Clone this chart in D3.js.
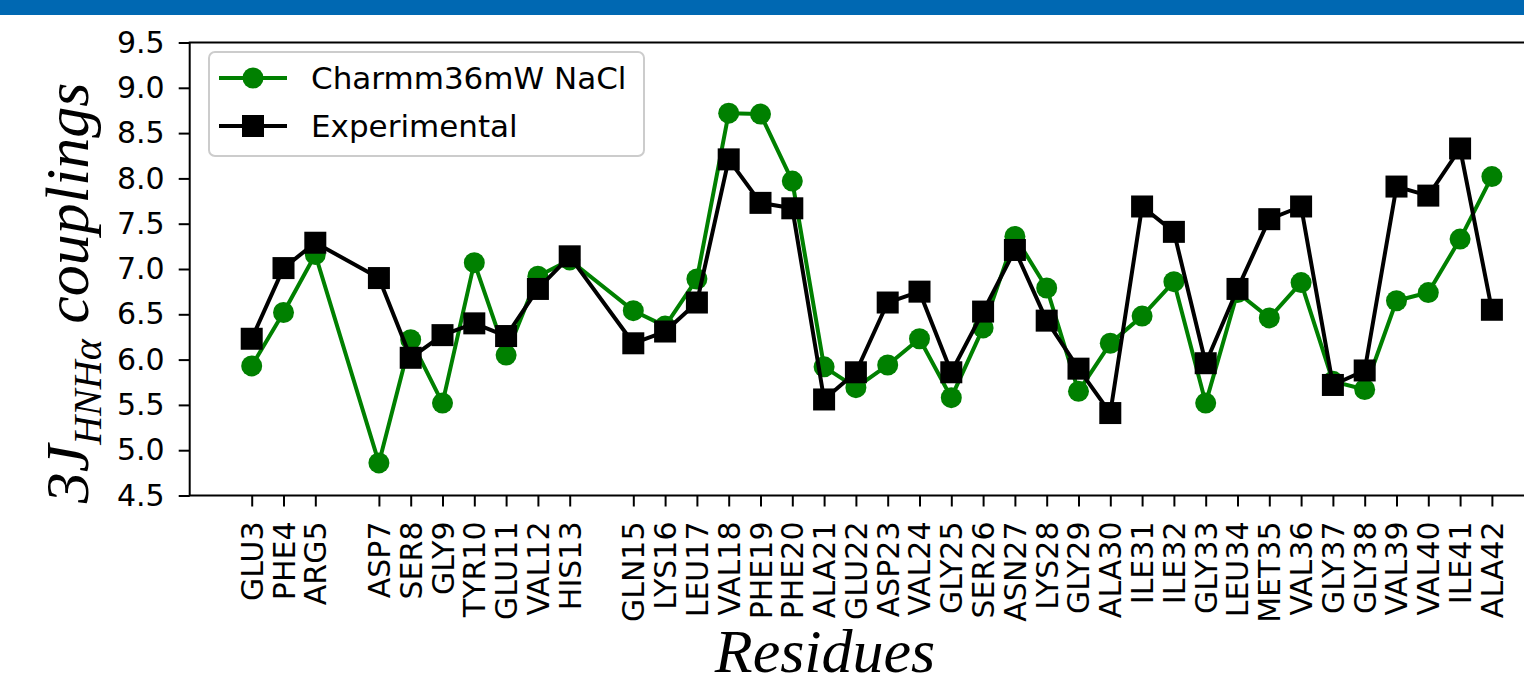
<!DOCTYPE html>
<html>
<head>
<meta charset="utf-8">
<script src="https://cdn.jsdelivr.net/npm/d3@7"></script>
<style>
  body { margin: 0; background: #fff; }
  svg { display: block; }
  .tick text { font-family: "DejaVu Sans", sans-serif; }
</style>
</head>
<body>
<div id="chart"></div>
<script>
// residues (label + residue number, gaps at 6 and 14)
const residues = ["GLU3", "PHE4", "ARG5", "ASP7", "SER8", "GLY9", "TYR10", "GLU11", "VAL12", "HIS13",
    "GLN15", "LYS16", "LEU17", "VAL18", "PHE19", "PHE20", "ALA21", "GLU22", "ASP23", "VAL24",
    "GLY25", "SER26", "ASN27", "LYS28", "GLY29", "ALA30", "ILE31", "ILE32", "GLY33", "LEU34",
    "MET35", "VAL36", "GLY37", "GLY38", "VAL39", "VAL40", "ILE41", "ALA42"];
const resNum = [3, 4, 5, 7, 8, 9, 10, 11, 12, 13,
    15, 16, 17, 18, 19, 20, 21, 22, 23, 24,
    25, 26, 27, 28, 29, 30, 31, 32, 33, 34,
    35, 36, 37, 38, 39, 40, 41, 42];

const charmm = [5.93, 6.52, 7.16, 4.86, 6.22, 5.52, 7.07, 6.05, 6.92, 7.10,
    6.54, 6.37, 6.89, 8.72, 8.71, 7.97, 5.92, 5.69, 5.94, 6.23,
    5.58, 6.35, 7.36, 6.79, 5.65, 6.18, 6.48, 6.86, 5.52, 6.74,
    6.46, 6.85, 5.76, 5.67, 6.65, 6.74, 7.33, 8.02];
const experimental = [6.23, 7.01, 7.29, 6.90, 6.02, 6.27, 6.40, 6.26, 6.78, 7.14,
    6.18, 6.31, 6.63, 8.21, 7.73, 7.67, 5.56, 5.86, 6.63, 6.75,
    5.86, 6.53, 7.21, 6.43, 5.90, 5.41, 7.69, 7.41, 5.96, 6.78,
    7.55, 7.69, 5.72, 5.88, 7.91, 7.81, 8.33, 6.55];

const yTicks = [4.5, 5.0, 5.5, 6.0, 6.5, 7.0, 7.5, 8.0, 8.5, 9.0, 9.5];

const width = 1524, height = 685;
const green = "#008000";

const svg = d3.select("#chart").append("svg")
    .attr("width", width)
    .attr("height", height);

// blue header band
svg.append("rect")
    .attr("x", 0).attr("y", 0)
    .attr("width", width).attr("height", 15)
    .attr("fill", "#0068b2");

// matplotlib-style 5% margins on the residue axis
const xMin = d3.min(resNum), xMax = d3.max(resNum);
const pad = (xMax - xMin) * 0.05;
const x = d3.scaleLinear()
    .domain([xMin - pad, xMax + pad])
    .range([189.7, 1553.9]);
const y = d3.scaleLinear()
    .domain([4.5, 9.5])
    .range([495.5, 42.5]);

const plotTop = y.range()[1], plotBottom = y.range()[0];
const plotLeft = x.range()[0], plotRight = x.range()[1];

// axes
const xAxis = svg.append("g")
    .attr("transform", `translate(0,${plotBottom})`)
    .call(d3.axisBottom(x)
        .tickValues(resNum)
        .tickFormat((d, i) => residues[i])
        .tickSize(11)
        .tickSizeOuter(0));
xAxis.select(".domain").remove();
xAxis.selectAll(".tick line").attr("stroke-width", 2);
xAxis.selectAll(".tick text")
    .attr("font-size", 30)
    .attr("fill", "#000")
    .attr("transform", "rotate(-90)")
    .attr("x", -26)
    .attr("y", 0)
    .attr("dy", "0.35em")
    .attr("text-anchor", "end");

const yAxis = svg.append("g")
    .attr("transform", `translate(${plotLeft},0)`)
    .call(d3.axisLeft(y)
        .tickValues(yTicks)
        .tickFormat(d3.format(".1f"))
        .tickSize(11)
        .tickPadding(14)
        .tickSizeOuter(0));
yAxis.select(".domain").remove();
yAxis.selectAll(".tick line").attr("stroke-width", 2);
yAxis.selectAll(".tick text")
    .attr("font-size", 30)
    .attr("fill", "#000");

// spines
svg.append("rect")
    .attr("x", plotLeft).attr("y", plotTop)
    .attr("width", plotRight - plotLeft)
    .attr("height", plotBottom - plotTop)
    .attr("fill", "none")
    .attr("stroke", "#000")
    .attr("stroke-width", 2);

// series
const series = [
    { name: "Charmm36mW NaCl", values: charmm, color: green, marker: "circle" },
    { name: "Experimental", values: experimental, color: "#000", marker: "square" }
];

const line = d3.line()
    .x((d, i) => x(resNum[i]))
    .y(d => y(d));

function drawMarker(sel, marker, color) {
    if (marker === "circle") {
        sel.append("circle").attr("r", 10.5).attr("fill", color);
    } else {
        sel.append("rect")
            .attr("x", -11).attr("y", -11)
            .attr("width", 22).attr("height", 22)
            .attr("fill", color);
    }
}

series.forEach(s => {
    const g = svg.append("g");
    g.append("path")
        .datum(s.values)
        .attr("d", line)
        .attr("fill", "none")
        .attr("stroke", s.color)
        .attr("stroke-width", 4)
        .attr("stroke-linejoin", "round");
    g.selectAll(".pt")
        .data(s.values)
        .join("g")
        .attr("class", "pt")
        .attr("transform", (d, i) => `translate(${x(resNum[i])},${y(d)})`)
        .each(function () { drawMarker(d3.select(this), s.marker, s.color); });
});

// legend
const legend = svg.append("g");
legend.append("rect")
    .attr("x", 209).attr("y", 52)
    .attr("width", 435).attr("height", 104)
    .attr("rx", 6)
    .attr("fill", "#fff")
    .attr("fill-opacity", 0.8)
    .attr("stroke", "#cccccc")
    .attr("stroke-width", 2);

series.forEach((s, i) => {
    const row = legend.append("g")
        .attr("transform", `translate(0,${78 + i * 48})`);
    row.append("line")
        .attr("x1", 219).attr("x2", 287)
        .attr("stroke", s.color)
        .attr("stroke-width", 4);
    drawMarker(row.append("g").attr("transform", "translate(253,0)"), s.marker, s.color);
    row.append("text")
        .attr("x", 311)
        .attr("dy", "0.35em")
        .attr("font-family", "DejaVu Sans, sans-serif")
        .attr("font-size", 31)
        .text(s.name);
});

// axis titles
svg.append("text")
    .attr("x", 825)
    .attr("y", 672)
    .attr("text-anchor", "middle")
    .attr("font-family", "Liberation Serif, serif")
    .attr("font-style", "italic")
    .attr("font-size", 62)
    .text("Residues");

const yTitle = svg.append("text")
    .attr("transform", "translate(88,293) rotate(-90)")
    .attr("text-anchor", "middle")
    .attr("font-family", "Liberation Serif, serif")
    .attr("font-style", "italic")
    .attr("font-size", 62);
yTitle.append("tspan").text("3");
yTitle.append("tspan").text("J");
yTitle.append("tspan")
    .attr("font-size", 40)
    .attr("dy", 13)
    .text("HNHα");
yTitle.append("tspan")
    .attr("dy", -13)
    .text(" couplings");
</script>
</body>
</html>
